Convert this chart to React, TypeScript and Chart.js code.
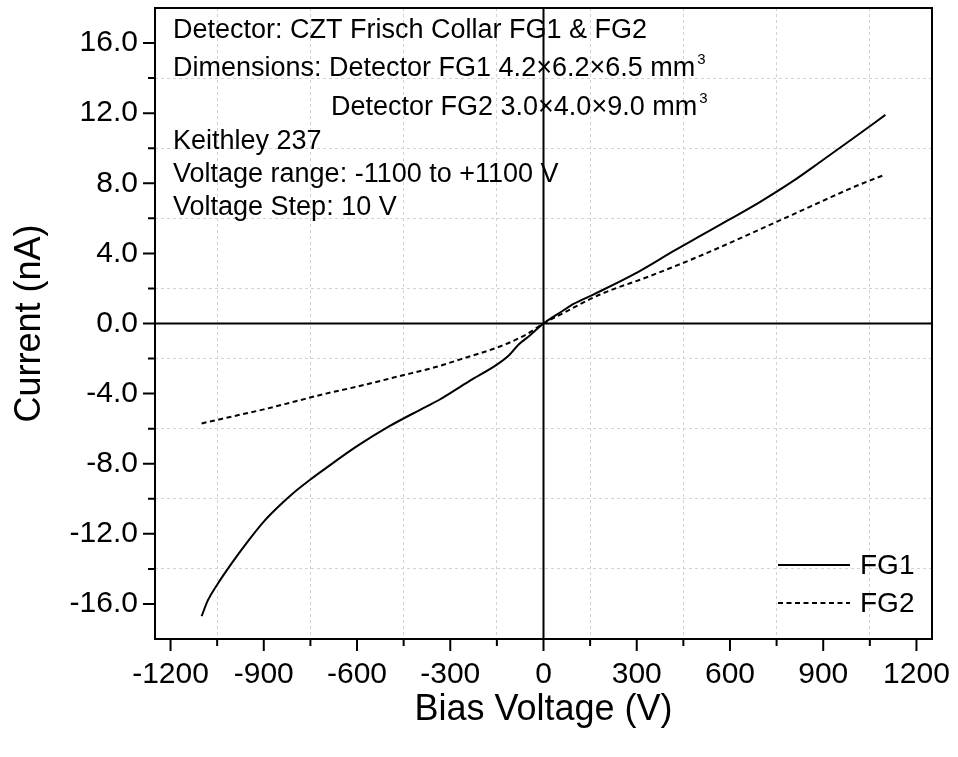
import React, { useEffect, useRef } from "react";
import { Chart, registerables } from "chart.js";

Chart.register(...registerables);

const FONT = "'Liberation Sans', Arial, Helvetica, sans-serif";

const fg1Voltage = [-1100, -1080, -1050, -1000, -950, -900, -850, -800, -750, -700, -600, -500, -400, -335, -240, -150, -110, -80, -45, 0, 60, 95, 160, 290, 425, 500, 600, 700, 800, 900, 1000, 1100];
const fg1Current = [-16.7, -15.8, -14.9, -13.6, -12.4, -11.3, -10.4, -9.6, -8.9, -8.25, -7.0, -5.9, -4.95, -4.35, -3.3, -2.35, -1.8, -1.2, -0.7, 0, 0.7, 1.1, 1.65, 2.8, 4.2, 4.95, 5.95, 6.97, 8.09, 9.34, 10.61, 11.9];

const fg2Voltage = [-1100, -1000, -900, -800, -700, -600, -463, -350, -270, -140, -57, 0, 60, 180, 340, 500, 650, 800, 930, 1000, 1100];
const fg2Current = [-5.7, -5.3, -4.9, -4.45, -4.0, -3.6, -3.0, -2.5, -2.06, -1.31, -0.64, 0, 0.56, 1.64, 2.69, 3.83, 5.0, 6.2, 7.25, 7.8, 8.5];

const xMajorTicks = [-1200, -900, -600, -300, 0, 300, 600, 900, 1200];
const xMinorTicks = [-1050, -750, -450, -150, 150, 450, 750, 1050];
const yMajorTicks = [-16, -12, -8, -4, 0, 4, 8, 12, 16];
const yMinorTicks = [-14, -10, -6, -2, 2, 6, 10, 14];

const xRange = [-1250, 1250];
const yRange = [-18, 18];

const seriesLabels = ["FG1", "FG2"];
const xTitle = "Bias Voltage (V)";
const yTitle = "Current (nA)";

// [text, superscript, indent]
const annotationLines: [string, string, number][] = [
  ["Detector: CZT Frisch Collar FG1 & FG2", "", 0],
  ["Dimensions: Detector FG1 4.2×6.2×6.5 mm", "3", 0],
  ["Detector FG2 3.0×4.0×9.0 mm", "3", 158],
  ["Keithley 237", "", 0],
  ["Voltage range: -1100 to +1100 V", "", 0],
  ["Voltage Step: 10 V", "", 0],
];
const annotationBaselines = [38, 76, 115, 149, 182, 215];

const toPoints = (xs: number[], ys: number[]) => xs.map((x, i) => ({ x, y: ys[i] }));
const allX = [...xMajorTicks, ...xMinorTicks].sort((a, b) => a - b);
const allY = [...yMajorTicks, ...yMinorTicks].sort((a, b) => a - b);

const framePlugin = {
  id: "framePlugin",
  beforeDatasetsDraw(chart: any) {
    const { ctx, chartArea: a, scales } = chart;
    ctx.save();
    ctx.strokeStyle = "#000";
    ctx.lineWidth = 2;
    const x0 = scales.x.getPixelForValue(0);
    const y0 = scales.y.getPixelForValue(0);
    ctx.beginPath();
    ctx.moveTo(x0, a.top);
    ctx.lineTo(x0, a.bottom);
    ctx.moveTo(a.left, y0);
    ctx.lineTo(a.right, y0);
    ctx.stroke();
    ctx.restore();
  },
  afterDraw(chart: any) {
    const { ctx, chartArea: a, scales } = chart;
    ctx.save();
    ctx.strokeStyle = "#000";
    ctx.lineWidth = 2;
    ctx.strokeRect(a.left, a.top, a.right - a.left, a.bottom - a.top);
    ctx.beginPath();
    xMajorTicks.forEach((v) => {
      const p = scales.x.getPixelForValue(v);
      ctx.moveTo(p, a.bottom);
      ctx.lineTo(p, a.bottom + 12);
    });
    xMinorTicks.forEach((v) => {
      const p = scales.x.getPixelForValue(v);
      ctx.moveTo(p, a.bottom);
      ctx.lineTo(p, a.bottom + 7);
    });
    yMajorTicks.forEach((v) => {
      const p = scales.y.getPixelForValue(v);
      ctx.moveTo(a.left, p);
      ctx.lineTo(a.left - 12, p);
    });
    yMinorTicks.forEach((v) => {
      const p = scales.y.getPixelForValue(v);
      ctx.moveTo(a.left, p);
      ctx.lineTo(a.left - 7, p);
    });
    ctx.stroke();

    // annotation text
    ctx.fillStyle = "#000";
    ctx.textBaseline = "alphabetic";
    ctx.textAlign = "left";
    annotationLines.forEach(([text, sup, indent], i) => {
      const x = a.left + 18 + indent;
      const y = annotationBaselines[i];
      ctx.font = `27px ${FONT}`;
      ctx.fillText(text, x, y);
      if (sup) {
        const w = ctx.measureText(text).width;
        ctx.font = `15px ${FONT}`;
        ctx.fillText(sup, x + w + 2, y - 12);
      }
    });

    // legend
    const ds = chart.data.datasets;
    const legendY = [a.bottom - 74, a.bottom - 36];
    ds.forEach((d: any, i: number) => {
      const y = legendY[i];
      ctx.save();
      ctx.strokeStyle = d.borderColor;
      ctx.lineWidth = d.borderWidth;
      ctx.setLineDash(d.borderDash || []);
      ctx.beginPath();
      ctx.moveTo(a.right - 154, y);
      ctx.lineTo(a.right - 82, y);
      ctx.stroke();
      ctx.restore();
      ctx.font = `28px ${FONT}`;
      ctx.textBaseline = "middle";
      ctx.fillStyle = "#000";
      ctx.fillText(d.label, a.right - 72, y + 1);
    });
    ctx.restore();
  },
};

export default function App() {
  const canvasRef = useRef<HTMLCanvasElement | null>(null);

  useEffect(() => {
    if (!canvasRef.current) return;
    const gridColor = (minor: number[]) => (c: any) =>
      c.tick && minor.includes(c.tick.value) ? "#d2d2d2" : "rgba(0,0,0,0)";

    const chart = new Chart(canvasRef.current, {
      type: "line",
      data: {
        datasets: [
          {
            label: seriesLabels[0],
            data: toPoints(fg1Voltage, fg1Current),
            borderColor: "#000",
            borderWidth: 2,
            pointRadius: 0,
            cubicInterpolationMode: "monotone",
            fill: false,
          },
          {
            label: seriesLabels[1],
            data: toPoints(fg2Voltage, fg2Current),
            borderColor: "#000",
            borderWidth: 2,
            borderDash: [5, 3.5],
            pointRadius: 0,
            cubicInterpolationMode: "monotone",
            fill: false,
          },
        ],
      },
      options: {
        animation: false,
        responsive: false,
        layout: { padding: { top: 8, right: 26, bottom: 0, left: 0 } },
        plugins: { legend: { display: false }, tooltip: { enabled: false } },
        scales: {
          x: {
            type: "linear",
            min: xRange[0],
            max: xRange[1],
            afterBuildTicks: (s: any) => {
              s.ticks = allX.map((v) => ({ value: v }));
            },
            afterFit: (s: any) => {
              s.height = 118;
              s.paddingLeft = 0;
              s.paddingRight = 0;
            },
            ticks: {
              autoSkip: false,
              maxRotation: 0,
              padding: 18,
              color: "#000",
              font: { family: FONT, size: 30 },
              callback: (v: any) => (xMajorTicks.includes(Number(v)) ? String(v) : ""),
            },
            grid: { drawTicks: false, color: gridColor(xMinorTicks), lineWidth: 1 },
            border: { display: false, dash: [3, 3] },
            title: {
              display: true,
              text: xTitle,
              color: "#000",
              font: { family: FONT, size: 36 },
              padding: { top: 0, bottom: 25 },
            },
          },
          y: {
            type: "linear",
            min: yRange[0],
            max: yRange[1],
            afterBuildTicks: (s: any) => {
              s.ticks = allY.map((v) => ({ value: v }));
            },
            afterFit: (s: any) => {
              s.width = 155;
              s.paddingTop = 0;
              s.paddingBottom = 0;
            },
            ticks: {
              autoSkip: false,
              padding: 17,
              color: "#000",
              font: { family: FONT, size: 30 },
              callback: (v: any) => (yMajorTicks.includes(Number(v)) ? Number(v).toFixed(1) : ""),
            },
            grid: { drawTicks: false, color: gridColor(yMinorTicks), lineWidth: 1 },
            border: { display: false, dash: [3, 3] },
            title: {
              display: true,
              text: yTitle,
              color: "#000",
              font: { family: FONT, size: 36 },
              padding: { top: 8, bottom: 0 },
            },
          },
        },
      },
      plugins: [framePlugin],
    });
    return () => chart.destroy();
  }, []);

  return (
    <div style={{ position: "fixed", left: 0, top: 0, width: 958, height: 757, background: "#fff" }}>
      <canvas ref={canvasRef} width={958} height={757} style={{ display: "block" }} />
    </div>
  );
}
